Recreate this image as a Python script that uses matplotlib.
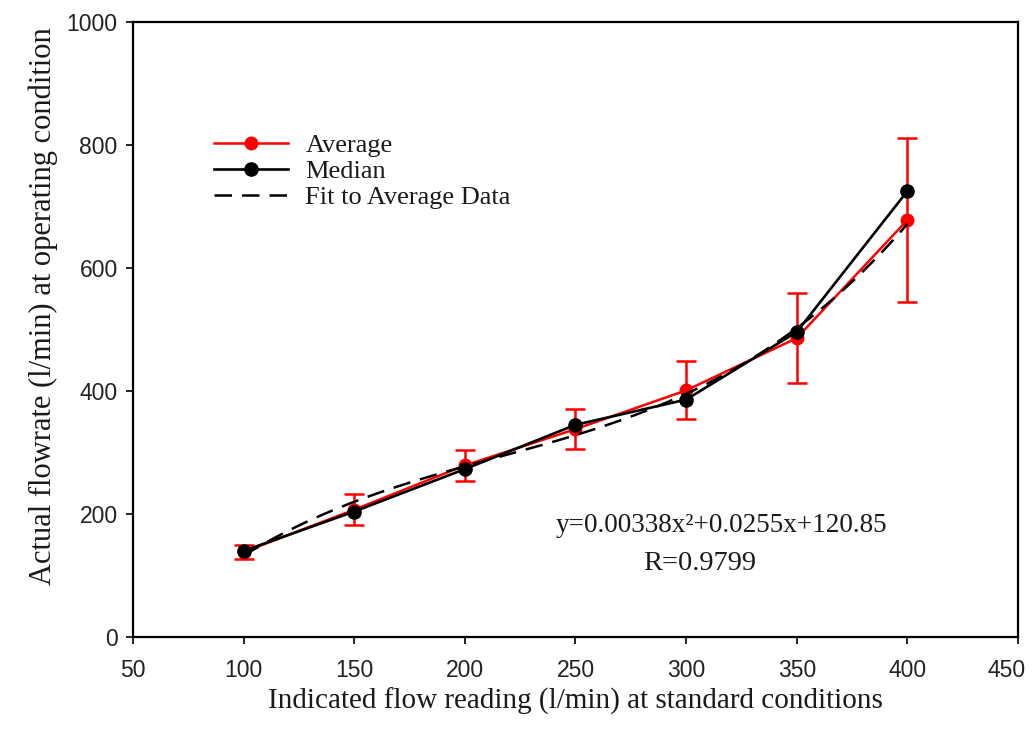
import numpy as np
import matplotlib
matplotlib.use("Agg")
import matplotlib.pyplot as plt
from matplotlib.lines import Line2D
from matplotlib.transforms import ScaledTranslation

# Flow-meter calibration data
indicated_flow = [100, 150, 200, 250, 300, 350, 400]
average_flow = [138, 207, 279, 338, 401, 486, 678]
average_err = [11, 25, 25, 32, 47, 73, 133]
median_flow = [140, 204, 273, 345, 386, 496, 725]

x_ticks = [50, 100, 150, 200, 250, 300, 350, 400, 450]
y_ticks = [0, 200, 400, 600, 800, 1000]

fit_label = "y=0.00338x²+0.0255x+120.85"
r_label = "R=0.9799"

serif = ["Liberation Serif", "DejaVu Serif"]
sans = ["Liberation Sans", "DejaVu Sans"]
red = "#ff0000"
ink = "#1a1a1a"

fig = plt.figure(figsize=(10.32, 7.54), dpi=100)
ax = fig.add_axes([0.1289, 0.1552, 0.8575, 0.8156])

# Average with error bars (bottom layer)
ax.errorbar(indicated_flow, average_flow, yerr=average_err, color=red,
            ecolor=red, elinewidth=1.8, capsize=7.5, capthick=1.8,
            lw=1.8, marker="o", markersize=9, zorder=2)

# Smooth fit through the average data
coef = np.polyfit(indicated_flow, average_flow, 3)
xs = np.linspace(min(indicated_flow), max(indicated_flow), 200)
fit_line, = ax.plot(xs, np.polyval(coef, xs), color="black", lw=1.8, zorder=3)
fit_line.set_dashes([7, 4])

# Median
ax.plot(indicated_flow, median_flow, color="black", lw=1.9, marker="o",
        markersize=9.5, zorder=4)

ax.set_xlim(50, 450)
ax.set_ylim(0, 1000)
ax.set_xticks(x_ticks)
ax.set_yticks(y_ticks)
ax.tick_params(direction="out", length=5, width=1.2, labelsize=16.5,
               top=False, right=False)
ax.tick_params(axis="x", pad=11)
ax.tick_params(axis="y", pad=6)
for lbl in ax.get_xticklabels() + ax.get_yticklabels():
    lbl.set_family(sans)
    lbl.set_color("#222222")
# keep the last x tick label inside the canvas
last = ax.get_xticklabels()[-1]
last.set_transform(last.get_transform() +
                   ScaledTranslation(-8 / 72, 0, fig.dpi_scale_trans))
for sp in ax.spines.values():
    sp.set_linewidth(1.6)

ax.set_xlabel("Indicated flow reading (l/min) at standard conditions",
              family=serif, fontsize=21, labelpad=4, color=ink)
ax.set_ylabel("Actual flowrate (l/min) at operating condition",
              family=serif, fontsize=22, color=ink)
ax.yaxis.set_label_coords(-0.085, 0.538)

handles = [
    Line2D([], [], color=red, lw=1.8, marker="o", markersize=9),
    Line2D([], [], color="black", lw=1.9, marker="o", markersize=9.5),
    Line2D([], [], color="black", lw=1.8, dashes=[7, 4]),
]
labels = ["Average", "Median", "Fit to Average Data"]
leg = ax.legend(handles, labels, loc="upper left",
                bbox_to_anchor=(0.065, 0.857), frameon=False,
                handlelength=2.8, handletextpad=0.65, labelspacing=0.1,
                prop={"family": serif, "size": 19})
for t in leg.get_texts():
    t.set_color(ink)

ax.text(316, 182, fit_label, family=serif, fontsize=19.5, ha="center",
        va="center", color=ink)
ax.text(306, 119, r_label, family=serif, fontsize=20.5, ha="center",
        va="center", color=ink)

fig.savefig("out.png", dpi=100, facecolor="white")
